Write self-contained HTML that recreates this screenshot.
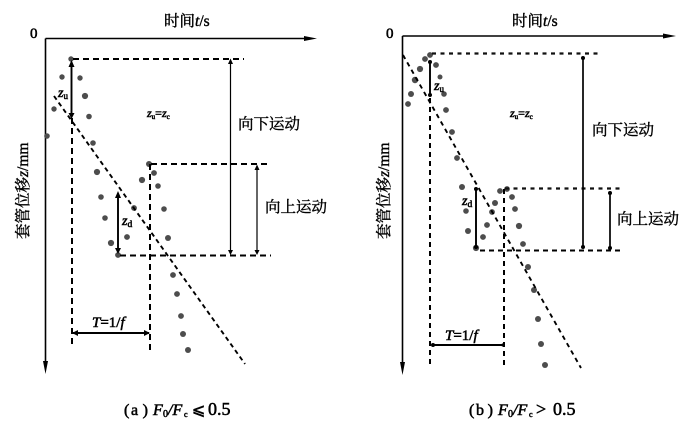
<!DOCTYPE html>
<html><head><meta charset="utf-8"><style>
html,body{margin:0;padding:0;background:#fff}
svg{display:block;filter:blur(0.3px)}
text{font-family:"Liberation Serif","Noto Serif CJK SC",serif;fill:#000}
.cn{font-size:15.500px;stroke:#000;stroke-width:0.4px}
.i{font-style:italic}
.n{font-style:normal}
.m{stroke:#000;stroke-width:0.55px}
.d{fill:#4d4d4d}
.dash{stroke:#000;stroke-width:2;stroke-dasharray:6 4;fill:none}
.dot2{stroke:#111;stroke-width:2.200;stroke-dasharray:4 4.5;fill:none}
.l{stroke:#000;fill:none}
.h{fill:#000}
</style></head><body>
<svg width="700" height="440" viewBox="0 0 700 440" xmlns="http://www.w3.org/2000/svg">
<!-- LEFT PANEL -->
<path class="l" stroke-width="1.600" d="M45.500 38.500H310M45.500 38.500V368"/>
<path class="h" d="M317 38.500L304 36V41ZM45.500 374L43 361H48Z"/>
<text x="164" y="26" class="cn">时间<tspan class="i">t</tspan>/s</text>
<text x="30" y="38" font-size="15" class="m">0</text>
<text transform="translate(28,239) rotate(-90)" class="cn">套管位移<tspan class="i">z</tspan>/mm</text>
<g class="d">
<circle cx="71" cy="59" r="2.700"/><circle cx="62" cy="77" r="2.700"/><circle cx="80" cy="78" r="2.700"/><circle cx="85" cy="96" r="3.100"/><circle cx="54" cy="109" r="2.700"/><circle cx="89" cy="116.500" r="2.800"/><circle cx="47" cy="136" r="2.800"/><circle cx="93" cy="143" r="2.800"/><circle cx="97" cy="172" r="3.100"/><circle cx="101" cy="197" r="2.800"/><circle cx="105" cy="218" r="2.800"/><circle cx="111" cy="243" r="3.100"/><circle cx="118" cy="255" r="2.900"/><circle cx="127" cy="237" r="2.900"/><circle cx="134" cy="208" r="2.900"/><circle cx="142" cy="180" r="3.100"/><circle cx="149" cy="164" r="3"/><circle cx="154" cy="173" r="2.900"/><circle cx="158" cy="186" r="2.800"/><circle cx="164" cy="209" r="2.800"/><circle cx="168" cy="238" r="3"/><circle cx="173" cy="275" r="2.900"/><circle cx="177" cy="294" r="2.900"/><circle cx="181" cy="316" r="2.900"/><circle cx="183" cy="334" r="3"/><circle cx="188" cy="350" r="3"/>
</g>
<path class="dash" d="M73 59H244M151 164H270M120 255.500H271M72 118V347M150 164V352"/>
<path class="l" stroke-width="1.900" stroke-dasharray="4.500 3.500" d="M54 96L245 364"/>
<path class="l" stroke-width="1.900" d="M71.500 62V116M118 194V251M73 333H149"/>
<path class="l" stroke-width="1.200" d="M230.500 62V252M257 167V252"/>
<path class="h" d="M71.500 60L68.500 67H74.500ZM71.500 119L68.500 113H74.500ZM118 191L115 198H121ZM118 254L115 248H121ZM72 333L78 330V336ZM150 333L144 330V336ZM230.500 58.500L228 64H233ZM230.500 255L228 250H233ZM257 164.500L254.500 170H259.500ZM257 255L254.500 250H259.500Z"/>
<text x="58" y="97" font-size="14" class="i m">z<tspan font-size="9" dy="2" class="n">u</tspan></text>
<text x="147" y="117" font-size="12" class="i m">z<tspan font-size="7" dy="2" class="n">u</tspan><tspan dy="-2" class="n">=</tspan>z<tspan font-size="7" dy="2" class="n">c</tspan></text>
<text x="122" y="225" font-size="14" class="i m">z<tspan font-size="9.500" dy="2" class="n">d</tspan></text>
<text x="238" y="129" class="cn">向下运动</text>
<text x="265" y="212" class="cn">向上运动</text>
<text x="92" y="327" font-size="15" class="i m">T<tspan class="n">=1/</tspan>f</text>
<g class="m" font-size="16">
<text x="124" y="415">(</text><text x="131" y="415">a</text><text x="148" y="415" text-anchor="end">)</text>
<text x="153" y="415" class="i">F</text><text x="163" y="417" font-size="10">0</text><text x="168" y="415" class="i">/F</text><text x="184" y="417" font-size="8">c</text>
<text x="192" y="415" style="font-family:'DejaVu Sans',serif" font-size="16">⩽</text><text x="208" y="415" font-size="18">0.5</text>
</g>

<!-- RIGHT PANEL -->
<path class="l" stroke-width="1.600" d="M402.500 36H668M402.500 36V368"/>
<path class="h" d="M676 36L663 33.500V38.500ZM402.500 375L400 362H405Z"/>
<text x="512" y="26" class="cn">时间<tspan class="i">t</tspan>/s</text>
<text x="386" y="38" font-size="15" class="m">0</text>
<text transform="translate(389,239) rotate(-90)" class="cn">套管位移<tspan class="i">z</tspan>/mm</text>
<g class="d">
<circle cx="430" cy="55" r="2.900"/><circle cx="425" cy="59" r="2.900"/><circle cx="420" cy="69" r="3.100"/><circle cx="415" cy="80" r="3.200"/><circle cx="411" cy="94" r="3"/><circle cx="408" cy="104" r="2.900"/><circle cx="436" cy="65" r="2.900"/><circle cx="440" cy="77" r="2.500"/><circle cx="444" cy="94" r="2.800"/><circle cx="446" cy="110" r="2.900"/><circle cx="452" cy="132" r="2.900"/><circle cx="457" cy="158" r="2.900"/><circle cx="462" cy="187" r="3"/><circle cx="466" cy="211" r="2.800"/><circle cx="468" cy="231" r="3"/><circle cx="476" cy="248" r="3.100"/><circle cx="483" cy="237" r="2.900"/><circle cx="487" cy="225" r="2.900"/><circle cx="492" cy="212" r="2.900"/><circle cx="495" cy="203" r="3"/><circle cx="500" cy="191" r="2.900"/><circle cx="507" cy="189" r="2.900"/><circle cx="512" cy="197" r="2.900"/><circle cx="515" cy="209" r="2.900"/><circle cx="519" cy="226" r="3.100"/><circle cx="523" cy="244" r="2.900"/><circle cx="528" cy="267" r="3"/><circle cx="534" cy="290" r="3"/><circle cx="538" cy="319" r="3"/><circle cx="541" cy="344" r="3"/><circle cx="545" cy="365" r="3"/>
</g>
<path class="dot2" d="M432 53.500H598M505 188.500H621"/>
<path class="dash" style="stroke-dasharray:5 4" d="M480 250.500H624M430 98V367M504 189V367"/>
<path class="l" stroke-width="1.900" stroke-dasharray="4.500 4" d="M403 55L581 368"/>
<path class="l" stroke-width="1.900" d="M430 62V95M476 188V247M432 345H503"/>
<path class="l" stroke-width="1.700" d="M583 58V246M610 193V247"/>
<g class="h"><circle cx="430" cy="62" r="2"/><circle cx="430" cy="95" r="2"/><circle cx="476" cy="189" r="2"/><circle cx="476" cy="247" r="2"/><circle cx="433" cy="345" r="2"/><circle cx="503" cy="345" r="1.600"/><circle cx="583" cy="58" r="2"/><circle cx="583" cy="247" r="2"/><circle cx="610" cy="193" r="2"/><circle cx="610" cy="248" r="2"/></g>
<text x="434" y="90" font-size="14" class="i m">z<tspan font-size="9" dy="2" class="n">u</tspan></text>
<text x="510" y="117" font-size="12" class="i m">z<tspan font-size="7" dy="2" class="n">u</tspan><tspan dy="-2" class="n">=</tspan>z<tspan font-size="7" dy="2" class="n">c</tspan></text>
<text x="462" y="205" font-size="14" class="i m">z<tspan font-size="9.500" dy="2" class="n">d</tspan></text>
<text x="592" y="135" class="cn">向下运动</text>
<text x="617" y="224" class="cn">向上运动</text>
<text x="445" y="340" font-size="15" class="i m">T<tspan class="n">=1/</tspan>f</text>
<g class="m" font-size="16">
<text x="469" y="415">(</text><text x="476" y="415">b</text><text x="493" y="415" text-anchor="end">)</text>
<text x="498" y="415" class="i">F</text><text x="508" y="417" font-size="10">0</text><text x="513" y="415" class="i">/F</text><text x="529" y="417" font-size="8">c</text>
<text x="536" y="415" font-size="18">&gt;</text><text x="553" y="415" font-size="18">0.5</text>
</g>
</svg>
</body></html>
